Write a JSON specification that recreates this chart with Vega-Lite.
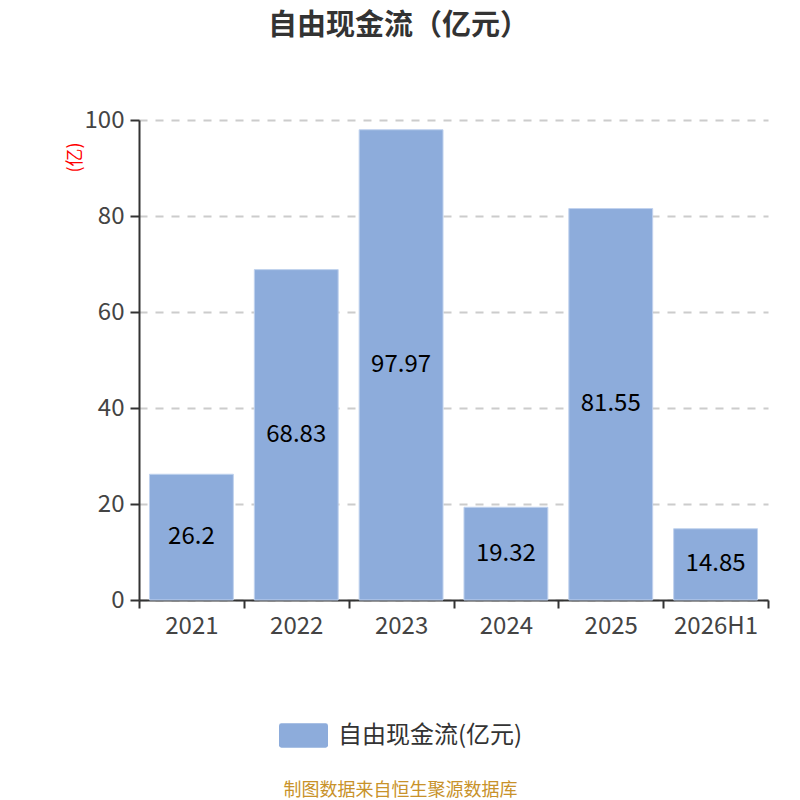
{
  "$schema": "https://vega.github.io/schema/vega-lite/v6.json",
  "autosize": {"type": "none"},
  "width": 629,
  "height": 480,
  "padding": {"left": 139, "top": 120, "right": 32, "bottom": 200},
  "background": "white",
  "config": {
    "font": "Noto Sans CJK SC",
    "view": {"stroke": null}
  },
  "title": {
    "text": "自由现金流（亿元）",
    "fontSize": 29,
    "fontWeight": "bold",
    "color": "#333333",
    "anchor": "middle",
    "dx": -55,
    "offset": 0,
    "baseline": "middle",
    "dy": -53
  },
  "data": {
    "values": [
      {"year": "2021", "value": 26.2, "label": "26.2", "series": "自由现金流(亿元)"},
      {"year": "2022", "value": 68.83, "label": "68.83", "series": "自由现金流(亿元)"},
      {"year": "2023", "value": 97.97, "label": "97.97", "series": "自由现金流(亿元)"},
      {"year": "2024", "value": 19.32, "label": "19.32", "series": "自由现金流(亿元)"},
      {"year": "2025", "value": 81.55, "label": "81.55", "series": "自由现金流(亿元)"},
      {"year": "2026H1", "value": 14.85, "label": "14.85", "series": "自由现金流(亿元)"}
    ]
  },
  "encoding": {
    "x": {
      "field": "year",
      "type": "nominal",
      "sort": null,
      "scale": {"paddingInner": 0, "paddingOuter": 0},
      "axis": {
        "title": "制图数据来自恒生聚源数据库",
        "titleColor": "#c8922a",
        "titleFontSize": 18,
        "titleFontWeight": "normal",
        "titleX": 261,
        "titleY": 190,
        "titleAlign": "center",
        "titleBaseline": "middle",
        "labelAngle": 0,
        "labelFontSize": 24,
        "labelColor": "#444444",
        "labelPadding": 6,
        "domainColor": "#333333",
        "domainWidth": 2,
        "tickColor": "#333333",
        "tickWidth": 2,
        "tickSize": 8,
        "tickBand": "extent",
        "grid": false
      }
    }
  },
  "layer": [
    {
      "mark": {"type": "bar", "width": {"band": 0.8}, "stroke": "#c0d2ee", "strokeWidth": 1},
      "encoding": {
        "y": {
          "field": "value",
          "type": "quantitative",
          "scale": {"domain": [0, 100]},
          "axis": {
            "title": "(亿)",
            "titleColor": "#ff0000",
            "titleFontSize": 18,
            "titleFontWeight": "normal",
            "titleX": -64,
            "titleY": 37,
            "titleAngle": -90,
            "titleAlign": "center",
            "titleBaseline": "middle",
            "values": [0, 20, 40, 60, 80, 100],
            "labelFontSize": 24,
            "labelColor": "#444444",
            "labelPadding": 6,
            "domainColor": "#333333",
            "domainWidth": 2,
            "tickColor": "#333333",
            "tickWidth": 2,
            "tickSize": 9,
            "grid": true,
            "gridColor": "#cccccc",
            "gridDash": [8, 8],
            "gridWidth": 2
          }
        },
        "color": {
          "field": "series",
          "type": "nominal",
          "scale": {"range": ["#8dacdb"]},
          "legend": {
            "title": null,
            "orient": "none",
            "legendX": 152,
            "legendY": 603,
            "symbolType": "M-1.8,-1 L1.8,-1 Q2,-1 2,-0.8 L2,0.8 Q2,1 1.8,1 L-1.8,1 Q-2,1 -2,0.8 L-2,-0.8 Q-2,-1 -1.8,-1 Z",
            "symbolSize": 600,
            "symbolStrokeWidth": 0,
            "labelFontSize": 24,
            "labelColor": "#333333",
            "labelOffset": 22,
            "labelLimit": 400
          }
        }
      }
    },
    {
      "mark": {"type": "text", "fontSize": 24, "color": "#000000", "baseline": "middle"},
      "encoding": {
        "y": {
          "field": "value",
          "type": "quantitative",
          "scale": {"domain": [0, 200]},
          "axis": null
        },
        "text": {"field": "label"}
      }
    }
  ],
  "resolve": {"scale": {"y": "independent"}}
}
